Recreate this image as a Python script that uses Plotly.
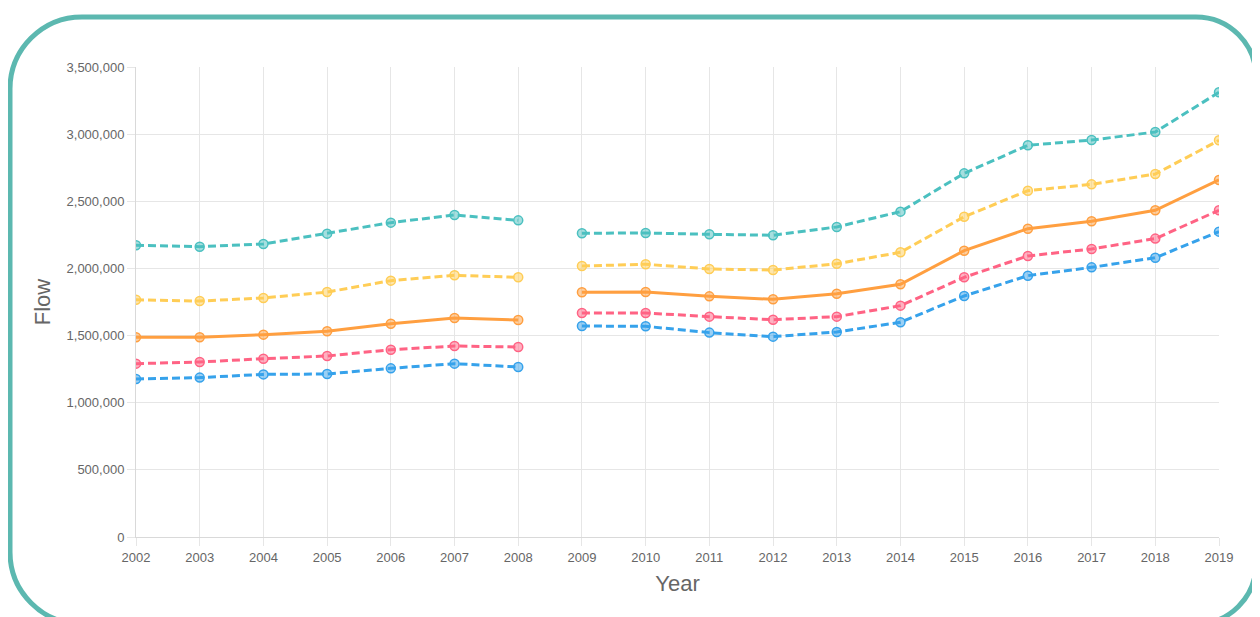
import plotly.graph_objects as go

years = list(range(2002, 2020))
break_after = 2008  # line segment between 2008 and 2009 is not drawn

teal = [2172000, 2162000, 2182000, 2259000, 2341000, 2398000, 2358000,
        2262000, 2264000, 2254000, 2247000, 2309000, 2423000,
        2708000, 2917000, 2956000, 3016000, 3312000]
yellow = [1767000, 1757000, 1780000, 1824000, 1909000, 1949000, 1934000,
          2018000, 2031000, 1996000, 1988000, 2035000, 2120000,
          2385000, 2579000, 2626000, 2703000, 2954000]
orange = [1487000, 1487000, 1507000, 1532000, 1588000, 1631000, 1616000,
          1822000, 1824000, 1792000, 1770000, 1812000, 1882000,
          2132000, 2296000, 2351000, 2433000, 2659000]
pink = [1291000, 1303000, 1328000, 1348000, 1395000, 1422000, 1415000,
        1668000, 1668000, 1641000, 1618000, 1641000, 1723000,
        1934000, 2093000, 2145000, 2222000, 2433000]
blue = [1177000, 1187000, 1211000, 1214000, 1256000, 1291000, 1266000,
        1571000, 1569000, 1522000, 1492000, 1527000, 1599000,
        1795000, 1946000, 2008000, 2080000, 2274000]

series = [
    ("Teal", teal, (75, 192, 192), True),
    ("Yellow", yellow, (255, 205, 86), True),
    ("Orange", orange, (255, 159, 64), False),
    ("Pink", pink, (255, 99, 132), True),
    ("Blue", blue, (54, 162, 235), True),
]

OFF = 8  # default page body margin
W, H = 1260 - OFF, 617 - OFF
# plot area in page pixels
L, R, T, B = 136, 1219, 67, 537


def with_gap(xs, ys):
    ox, oy = [], []
    for x, y in zip(xs, ys):
        ox.append(x)
        oy.append(y)
        if x == break_after:
            ox.append(x + 0.5)
            oy.append(None)
    return ox, oy


fig = go.Figure()
for name, vals, rgb, dashed in reversed(series):
    gx, gy = with_gap(years, vals)
    solid = "rgb(%d,%d,%d)" % rgb
    fill = "rgba(%d,%d,%d,0.5)" % rgb
    fig.add_trace(go.Scatter(
        x=gx, y=gy, name=name, mode="lines+markers", connectgaps=False,
        line=dict(color=solid, width=3, dash="8px,4px" if dashed else "solid"),
        marker=dict(size=9, color=fill, line=dict(color=solid, width=1.5)),
        hoverinfo="x+y",
    ))


def px(x):
    return (x - L) / (R - L)


def py(y):
    return (B - y) / (B - T)


def rounded_path(x0, y0, x1, y1, rl, rr):
    k = 0.5523
    pts = []
    pts.append("M %f,%f" % (px(x0 + rl), py(y0)))
    pts.append("L %f,%f" % (px(x1 - rr), py(y0)))
    pts.append("C %f,%f %f,%f %f,%f" % (px(x1 - rr + k * rr), py(y0), px(x1), py(y0 + rr - k * rr), px(x1), py(y0 + rr)))
    pts.append("L %f,%f" % (px(x1), py(y1 - rr)))
    pts.append("C %f,%f %f,%f %f,%f" % (px(x1), py(y1 - rr + k * rr), px(x1 - rr + k * rr), py(y1), px(x1 - rr), py(y1)))
    pts.append("L %f,%f" % (px(x0 + rl), py(y1)))
    pts.append("C %f,%f %f,%f %f,%f" % (px(x0 + rl - k * rl), py(y1), px(x0), py(y1 - rl + k * rl), px(x0), py(y1 - rl)))
    pts.append("L %f,%f" % (px(x0), py(y0 + rl)))
    pts.append("C %f,%f %f,%f %f,%f" % (px(x0), py(y0 + rl - k * rl), px(x0 + rl - k * rl), py(y0), px(x0 + rl), py(y0)))
    pts.append("Z")
    return " ".join(pts)


fig.add_shape(type="path", xref="paper", yref="paper",
              path=rounded_path(10, 17, 1256, 624, 72, 60),
              line=dict(color="#5cb8b0", width=5), layer="above")

fig.update_layout(
    width=W, height=H,
    margin=dict(l=L - OFF, r=W - (R - OFF), t=T - OFF, b=H - (B - OFF)),
    paper_bgcolor="white", plot_bgcolor="white",
    showlegend=False,
    font=dict(family="Liberation Sans, Arial, sans-serif", color="#666", size=13),
    xaxis=dict(
        range=[2002, 2019], tickmode="linear", tick0=2002, dtick=1,
        showgrid=True, gridcolor="#e6e6e6", gridwidth=1,
        showline=True, linecolor="#d9d9d9", linewidth=1,
        ticks="outside", ticklen=8, tickcolor="#e6e6e6",
        zeroline=False,
        title=dict(text="Year", font=dict(size=22, color="#666"), standoff=12),
        tickfont=dict(size=13, color="#666"),
    ),
    yaxis=dict(
        range=[0, 3500000], tickmode="linear", tick0=0, dtick=500000,
        tickformat=",d",
        showgrid=True, gridcolor="#e6e6e6", gridwidth=1,
        showline=True, linecolor="#d9d9d9", linewidth=1,
        ticks="outside", ticklen=8, tickcolor="#e6e6e6",
        zeroline=False,
        title=dict(text="Flow", font=dict(size=22, color="#666"), standoff=9),
        tickfont=dict(size=13, color="#666"),
    ),
)

fig.write_html("out.html")
